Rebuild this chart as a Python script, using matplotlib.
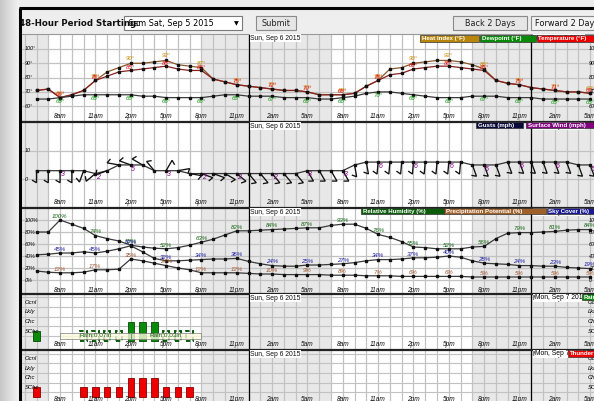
import numpy as np
import matplotlib
matplotlib.use('Agg')
import matplotlib.pyplot as plt
from matplotlib.patches import Rectangle

# ---------------- data ----------------
hours = list(range(48))
tick_hours = list(range(2, 48, 3))
tick_labels = ['8am', '11am', '2pm', '5pm', '8pm', '11pm', '2am', '5am',
               '8am', '11am', '2pm', '5pm', '8pm', '11pm', '2am', '5am']
midnights = [18, 42]
date_labels = ['Sun, Sep 6 2015', 'Mon, Sep 7 2015']
night_spans = [(-2, 1), (14, 25), (37, 50)]

temperature = [71, 72, 66, 68, 71, 78, 81, 84, 85, 86, 87, 88, 86, 85, 85, 79, 77, 75, 74, 73, 72, 71, 71, 70,
               68, 68, 68, 69, 74, 78, 82, 83, 86, 87, 88, 88, 87, 86, 85, 78, 76, 75, 73, 72, 71, 70, 70, 69]
heat_index = [71, 72, 66, 68, 71, 78, 84, 87, 90, 90, 91, 92, 89, 88, 87, 79, 77, 75, 74, 73, 72, 71, 71, 70,
              68, 68, 68, 69, 74, 78, 86, 87, 90, 91, 92, 92, 91, 89, 86, 78, 76, 75, 73, 72, 71, 70, 70, 69]
dewpoint = [65, 65, 66, 67, 68, 68, 68, 68, 68, 67, 67, 66, 66, 66, 66, 67, 68, 68, 67, 67, 67, 66, 66, 66,
            65, 65, 66, 67, 69, 70, 70, 69, 68, 67, 66, 66, 66, 67, 67, 67, 66, 66, 66, 65, 65, 65, 65, 65]

wind_speed = [3, 3, 3, 3, 3, 2, 3, 5, 5, 5, 3, 3, 3, 2, 2, 2, 2, 2, 2, 2, 2, 2, 2, 3,
              3, 3, 3, 5, 6, 6, 6, 6, 6, 6, 6, 6, 6, 5, 5, 5, 6, 6, 6, 6, 6, 6, 5, 5]
wind_dir = [180, 180, 180, 180, 200, 230, 250, 280, 290, 300, 320, 30, 80, 100, 110, 110, 120, 130, 140, 140, 140, 140, 140, 150,
            150, 150, 150, 170, 170, 185, 185, 185, 185, 185, 185, 185, 185, 160, 160, 160, 160, 160, 160, 160, 160, 160, 160, 160]

rel_humidity = [80, 80, 100, 93, 86, 74, 69, 65, 58, 55, 53, 52, 54, 58, 63, 68, 75, 82, 82, 83, 84, 85, 86, 87,
                87, 91, 93, 93, 86, 76, 71, 64, 55, 54, 52, 52, 52, 55, 56, 69, 78, 79, 79, 80, 81, 83, 84, 84]
sky_cover = [42, 43, 45, 45, 47, 45, 48, 52, 57, 47, 36, 32, 32, 33, 34, 35, 35, 36, 31, 27, 24, 23, 23, 25,
             25, 26, 27, 29, 32, 34, 34, 35, 37, 37, 38, 40, 38, 32, 28, 27, 26, 24, 24, 23, 23, 21, 20, 19]
precip_potential = [15, 13, 12, 12, 13, 17, 17, 18, 35, 32, 28, 24, 20, 17, 12, 12, 12, 12, 11, 10, 10, 9, 9, 9,
                    9, 8, 8, 8, 7, 7, 7, 6, 6, 6, 6, 6, 6, 5, 5, 5, 5, 5, 5, 5, 5, 5, 5, 5]

cat_labels = ['SChc', 'Chc', 'Lkly', 'Ocnl']
rain = [1, 0, 0, 0, 0, 0, 0, 0, 2, 2, 2] + [0] * 37
rain_showers = [0, 0, 0, 0, 1, 1, 1, 1, 0, 0, 0, 1, 1, 1] + [0] * 34
thunder = [1, 0, 0, 0, 1, 1, 1, 1, 2, 2, 2, 1, 1, 1] + [0] * 34
qpf_start = [2, 8]
qpf_end = [8, 14]
qpf_text = ['Rain:0.07in', 'Rain:0.03in']

# ---------------- layout helpers ----------------
W, H = 594, 401
X0 = 21.0              # left edge of plot area (px)
HX0, DX = 36.5, 11.78  # px of hour 0, px per hour
HLO = (X0 - HX0) / DX
HHI = (W - HX0) / DX

def hx(px):
    return (px - HX0) / DX

plt.rcParams['font.family'] = ['Liberation Sans', 'DejaVu Sans']
fig = plt.figure(figsize=(W / 100, H / 100), dpi=100)
fig.patch.set_facecolor('#f3f3f3')

bg = fig.add_axes([0, 0, 1, 1], zorder=0)
bg.set_xlim(0, W); bg.set_ylim(H, 0); bg.axis('off')
grad = np.linspace(0.78, 0.95, 50)[None, :]
bg.imshow(np.repeat(grad, 2, axis=0), cmap='gray', vmin=0, vmax=1,
          extent=[0, 19, H, 0], aspect='auto')
bg.add_patch(Rectangle((19, 0), W, 8, color='#ececec', lw=0))
bg.add_patch(Rectangle((21, 9), W, 25, color='#eeeeee', lw=0))

fg = fig.add_axes([0, 0, 1, 1], zorder=20)
fg.set_xlim(0, W); fg.set_ylim(H, 0); fg.axis('off')
fg.plot([20, 20], [8, H], color='black', lw=2.2, solid_capstyle='butt')
fg.plot([19, W], [8, 8], color='black', lw=2.2, solid_capstyle='butt')

# header
bg.text(19, 23.5, '48-Hour Period Starting:', fontsize=6.2, fontweight='bold',
        family='DejaVu Sans', va='center', ha='left', color='#111111')
bg.add_patch(Rectangle((124, 16), 118, 14, fc='white', ec='#7a7a7a', lw=0.8))
bg.text(128, 23.3, '6am Sat, Sep 5 2015', fontsize=5.9, family='DejaVu Sans', va='center', ha='left')
bg.text(236, 23.3, '\u25BC', fontsize=4.5, family='DejaVu Sans', va='center', ha='center')
for (x1, x2, t) in [(256, 296, 'Submit'), (453, 527, 'Back 2 Days')]:
    bg.add_patch(Rectangle((x1, 16), x2 - x1, 14, fc='#e6e6e6', ec='#8a8a8a', lw=0.8))
    bg.text((x1 + x2) / 2, 23.3, t, fontsize=5.9, family='DejaVu Sans', va='center', ha='center', color='#222222')
bg.add_patch(Rectangle((531, 16), 80, 14, fc='#f2f2f2', ec='#8a8a8a', lw=0.8))
bg.text(535, 23.3, 'Forward 2 Days', fontsize=5.9, family='DejaVu Sans', va='center', ha='left', color='#111111')

# ---------------- panels ----------------
def make_panel(top, bot, ylo, yhi, label_row, topcol='#222222', toplw=1.6):
    ax = fig.add_axes([X0 / W, 1 - bot / H, (W - X0) / W, (bot - top) / H], zorder=5)
    ax.set_xlim(HLO, HHI); ax.set_ylim(ylo, yhi)
    ax.set_facecolor('white')
    for s in ['left', 'right', 'bottom']:
        ax.spines[s].set_visible(False)
    ax.spines['top'].set_color(topcol); ax.spines['top'].set_linewidth(toplw)
    ax.set_xticks([]); ax.set_yticks([])
    for a, b in night_spans:
        ax.axvspan(a, b, color='#e8e8e8', lw=0, zorder=0)
    for h in range(-1, 49):
        ax.axvline(h, color='#c2c2c2', lw=0.9, zorder=1)
    for m, d in zip(midnights, date_labels):
        ax.axvline(m, color='black', lw=0.9, zorder=2)
        ax.text(m + 0.15, 1 - 4.5 / (bot - top), d, transform=ax.get_xaxis_transform(),
                fontsize=4.9, ha='left', va='center', color='#111111', zorder=6,
                bbox=dict(fc='white', ec='none', pad=0.3))
    yr = (bot - label_row) / (bot - top)
    for h, t in zip(tick_hours, tick_labels):
        ax.text(h, yr, t, transform=ax.get_xaxis_transform(), fontsize=4.7, style='italic',
                ha='center', va='center', color='#111111', zorder=6)
    return ax

def legend_boxes(items, y1, y2):
    for x1, x2, txt, col in items:
        fg.add_patch(Rectangle((x1, y1), x2 - x1, y2 - y1, fc=col, ec='#333333', lw=0.5))
        fg.text(x1 + 2, (y1 + y2) / 2 + 0.3, txt, fontsize=4.4, fontweight='bold', color='white',
                ha='left', va='center', clip_on=True)

def series(ax, vals, color, labcol, dy, fs=4.4, suffix='°'):
    ax.plot(hours, vals, color=color, lw=0.9, zorder=3)
    ax.plot(hours, vals, ls='none', marker='s', ms=1.6, color='#111111', zorder=4)
    for h in tick_hours:
        ax.annotate(f'{vals[h]}{suffix}', (h, vals[h]), xytext=(0, dy), textcoords='offset points',
                    fontsize=fs, style='italic', color=labcol, ha='center', va='center', zorder=5)

# --- Panel 1: temperature ---
t_top, t_bot = 33.5, 121.5
ax1 = make_panel(t_top, t_bot, 90 - (t_bot - 63.3) / 1.43, 90 + (63.3 - t_top) / 1.43, 117,
                 topcol='#999999', toplw=0.8)
for v in [60, 70, 80, 90, 100]:
    ax1.axhline(v, color='#c2c2c2', lw=0.9, zorder=1)
    ax1.text(hx(24.5), v, f'{v}°', fontsize=3.9, style='italic', va='center', ha='left', zorder=6)
    ax1.text(hx(589), v, f'{v}°', fontsize=3.9, style='italic', va='center', ha='left', zorder=6)
series(ax1, heat_index, '#8b5a2b', '#c88a00', 3.2)
series(ax1, temperature, '#8b2020', '#dd1111', 2.2)
series(ax1, dewpoint, '#3a3a3a', '#119911', -2.6)
legend_boxes([(420, 479, 'Heat Index (°F)', '#b8860b'), (479.5, 536, 'Dewpoint (°F)', '#0a8a0a'),
              (536.5, 620, 'Temperature (°F)', '#ee0000')], 34.5, 41.5)

# --- Panel 2: wind ---
w_top, w_bot = 121.5, 207.5
WS = 2.87
ax2 = make_panel(w_top, w_bot, -(w_bot - 179.3) / WS, (179.3 - w_top) / WS, 203)
for v in [0, 10]:
    ax2.axhline(v, color='#c2c2c2', lw=0.9, zorder=1)
    ax2.text(hx(25), v, f'{v}', fontsize=3.9, style='italic', va='center', ha='left', zorder=6)
ax2.plot(hours, wind_speed, color='#333333', lw=0.9, zorder=3)
ax2.plot(hours, wind_speed, ls='none', marker='s', ms=1.6, color='#111111', zorder=4)
L, TL = 12.0, 4.5
for h, s, d in zip(hours, wind_speed, wind_dir):
    th = np.deg2rad(d)
    vx, vy = np.sin(th), np.cos(th)
    ex, ey = h + L * vx / DX, s + L * vy / WS
    a = np.deg2rad(-120)
    tx, ty = vx * np.cos(a) - vy * np.sin(a), vx * np.sin(a) + vy * np.cos(a)
    ax2.plot([h, ex, ex + TL * tx / DX], [s, ey, ey + TL * ty / WS], color='#111111', lw=0.95,
             zorder=3, solid_joinstyle='miter')
for h in tick_hours:
    ax2.annotate(f'{wind_speed[h]}', (h, wind_speed[h]), xytext=(1.8, -3.0), textcoords='offset points',
                 fontsize=5.0, style='italic', color='#800080', ha='center', va='center', zorder=5)
legend_boxes([(476, 523, 'Gusts (mph)', '#0a0a3a'), (526, 620, 'Surface Wind (mph)', '#800080')], 122, 128)

# --- Panel 3: humidity etc ---
h_top, h_bot = 207.5, 293.5
ax3 = make_panel(h_top, h_bot, -(h_bot - 280) / 0.6, (280 - h_top) / 0.6, 290)
for v in [0, 20, 40, 60, 80, 100]:
    ax3.axhline(v, color='#c2c2c2', lw=0.9, zorder=1)
    ax3.text(hx(24.5), v, f'{v}%', fontsize=3.9, style='italic', va='center', ha='left', zorder=6)
    ax3.text(hx(589), v, f'{v}', fontsize=3.9, style='italic', va='center', ha='left', zorder=6)
series(ax3, rel_humidity, '#3a3a3a', '#116611', 2.6, suffix='%')
series(ax3, precip_potential, '#3a3a3a', '#a0522d', 2.6, suffix='%')
series(ax3, sky_cover, '#3a3a3a', '#1a1aa0', 2.6, suffix='%')
legend_boxes([(361, 443.5, 'Relative Humidity (%)', '#0b5d0b'),
              (444, 546, 'Precipitation Potential (%)', '#a0602a'),
              (546.5, 640, 'Sky Cover (%)', '#1a1a90')], 207.5, 214)

# --- Panel 4: rain ---
r_top, r_bot = 293.5, 349.5
ax4 = make_panel(r_top, r_bot, -(r_bot - 341) / 9.7, (341 - r_top) / 9.7, 345)
for v in [0.5, 1.5, 2.5, 3.5, 4.5]:
    ax4.axhline(v, color='#c2c2c2', lw=0.8, zorder=1)
for i, c in enumerate(cat_labels):
    ax4.text(hx(24.5), i + 1, c, fontsize=4.2, style='italic', va='center', ha='left', zorder=6)
    ax4.text(hx(588), i + 1, c, fontsize=4.2, style='italic', va='center', ha='left', zorder=6)
bw = 0.55
for h, v in zip(hours, rain_showers):
    if v:
        ax4.add_patch(Rectangle((h - bw / 2, 0), bw, v, fill=False, ec='#0a5a0a', lw=1.4,
                                ls=(0, (2.2, 1.3)), zorder=3))
for h, v in zip(hours, rain):
    if v:
        ax4.add_patch(Rectangle((h - bw / 2, 0), bw, v, fc='#0a8a0a', ec='#054a05', lw=0.6, zorder=3))
for a, b, t in zip(qpf_start, qpf_end, qpf_text):
    ax4.add_patch(Rectangle((a, 0.2), b - a, 0.62, fc='#fdfde0', ec='#777777', lw=0.6, zorder=4, alpha=0.8))
    ax4.text((a + b) / 2, 0.52, t, fontsize=4.6, color='#1a5a1a', ha='center', va='center', zorder=5)
ax4.text(hx(535), 1 - 4 / (r_bot - r_top), 'Mon, Sep 7 2015', transform=ax4.get_xaxis_transform(),
         fontsize=4.9, ha='left', va='center', zorder=6, bbox=dict(fc='white', ec='none', pad=0.3))
legend_boxes([(582, 640, 'Rain', '#0a8a0a')], 294, 300)

# --- Panel 5: thunder ---
s_top, s_bot = 349.5, 412
ax5 = make_panel(s_top, s_bot, -(s_bot - 397) / 9.6, (397 - s_top) / 9.6, 399.5)
for v in [0.5, 1.5, 2.5, 3.5, 4.5]:
    ax5.axhline(v, color='#c2c2c2', lw=0.8, zorder=1)
for i, c in enumerate(cat_labels):
    ax5.text(hx(24.5), i + 1, c, fontsize=4.2, style='italic', va='center', ha='left', zorder=6)
    ax5.text(hx(588), i + 1, c, fontsize=4.2, style='italic', va='center', ha='left', zorder=6)
for h, v in zip(hours, thunder):
    if v:
        ax5.add_patch(Rectangle((h - bw / 2, 0), bw, v, fc='#ee0000', ec='#880000', lw=0.6, zorder=3))
ax5.text(hx(535), 1 - 4 / (s_bot - s_top), 'Mon, Sep 7 2015', transform=ax5.get_xaxis_transform(),
         fontsize=4.9, ha='left', va='center', zorder=6, bbox=dict(fc='white', ec='none', pad=0.3))
legend_boxes([(568, 640, 'Thunder', '#ee0000')], 350, 356.5)

fig.savefig('out.png', dpi=100, facecolor=fig.get_facecolor())
